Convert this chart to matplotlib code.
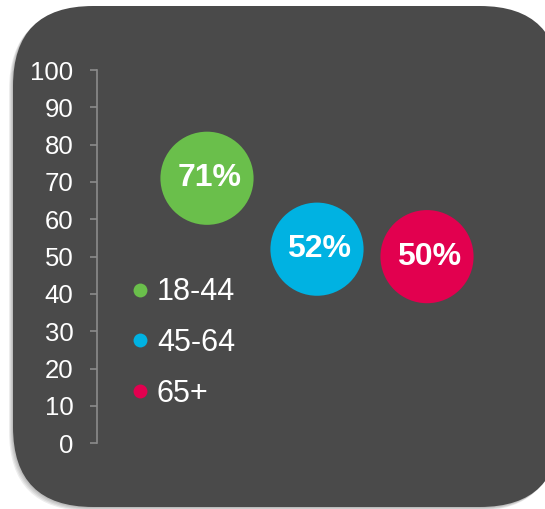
import matplotlib.pyplot as plt
from matplotlib.patches import FancyBboxPatch
from matplotlib.lines import Line2D

plt.rcParams['font.family'] = ['Liberation Sans', 'DejaVu Sans']

# data
groups = ["18-44", "45-64", "65+"]
shares = [71, 52, 50]
positions = [1, 2, 3]
colors = ["#6abf4b", "#00b2e2", "#e2004f"]
yticks = list(range(0, 101, 10))

bg = "#4a4a4a"
axis_grey = "#8c8c8c"

fig = plt.figure(figsize=(5.45, 5.09), dpi=100)

# background panel in pixel units
back = fig.add_axes([0, 0, 1, 1])
back.set_xlim(0, 545)
back.set_ylim(0, 509)
back.axis("off")
for dx, dy in [(-4, -4), (-3, -3), (-2, -2), (-1, -1)]:
    back.add_patch(FancyBboxPatch((13 + dx, 2 + dy), 547, 501,
                                  boxstyle="round,pad=0,rounding_size=80",
                                  fc="black", ec="none", alpha=0.07))
back.add_patch(FancyBboxPatch((13, 2), 547, 501,
                              boxstyle="round,pad=0,rounding_size=80",
                              fc=bg, ec="none"))

ax = fig.add_axes([97 / 545, 65.7 / 509, 440 / 545, 373.3 / 509])
ax.set_facecolor("none")
ax.set_xlim(0, 4)
ax.set_ylim(0, 100)

ax.scatter(positions, shares, s=4500, c=colors, linewidths=0, zorder=3)
for x, v in zip(positions, shares):
    ax.text(x + 0.02, v, f"{v}%", ha="center", va="center", color="white",
            fontsize=23, fontweight="bold", zorder=4)

# axis styling
for side in ["top", "right", "bottom"]:
    ax.spines[side].set_visible(False)
ax.spines["left"].set_color(axis_grey)
ax.spines["left"].set_linewidth(1.2)
ax.set_xticks([])
ax.set_yticks(yticks)
ax.tick_params(axis="y", colors=axis_grey, length=5, width=1.2, pad=12,
               labelcolor="white", labelsize=18.5)

handles = [Line2D([], [], marker="o", ls="none", markersize=10,
                  markerfacecolor=c, markeredgewidth=0) for c in colors]
leg = fig.legend(handles, groups, loc="center left",
                 bbox_to_anchor=(131 / 545, (509 - 343) / 509),
                 frameon=False, fontsize=22, labelcolor="white",
                 handlelength=0.6, handletextpad=0.25, labelspacing=0.68,
                 borderpad=0, borderaxespad=0)

fig.savefig("out.png", dpi=100)
